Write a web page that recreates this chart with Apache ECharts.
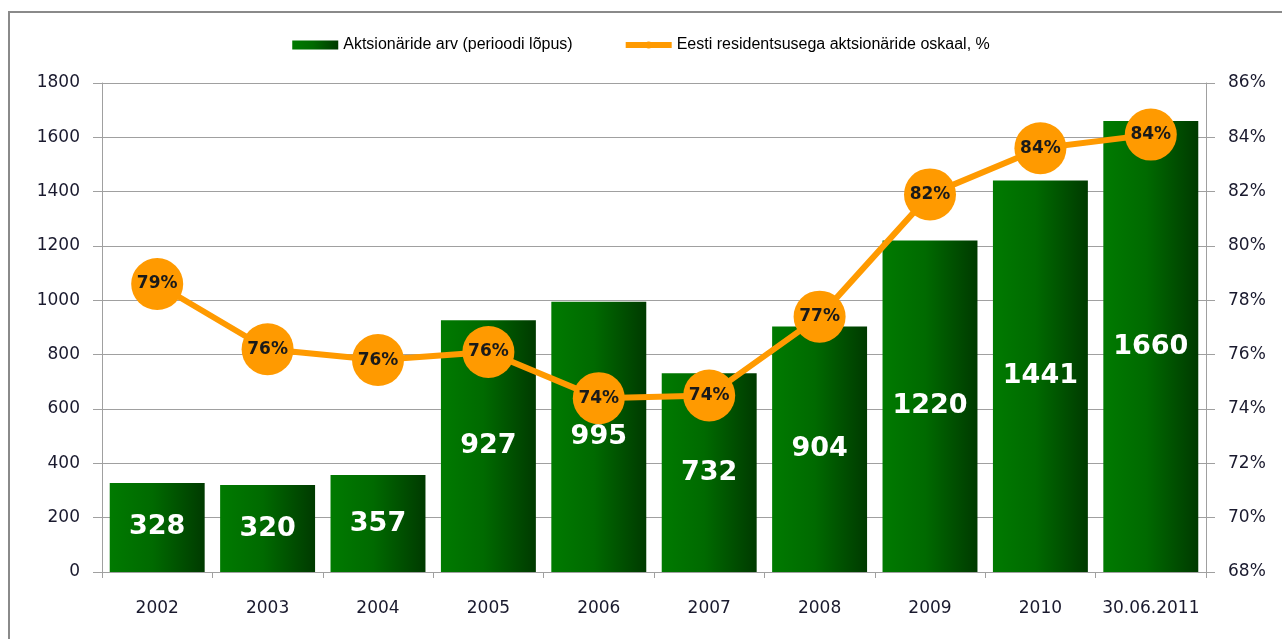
<!DOCTYPE html>
<html>
<head>
<meta charset="utf-8">
<script src="https://cdn.jsdelivr.net/npm/echarts@6/dist/echarts.min.js"></script>
<style>
  html, body { margin: 0; padding: 0; background: #fff; }
  #main { width: 1282px; height: 639px; }
</style>
</head>
<body>
<div id="main"></div>
<script>
// andmed
var categories = ['2002', '2003', '2004', '2005', '2006', '2007', '2008', '2009', '2010', '30.06.2011'];
var shareholders = [328, 320, 357, 927, 995, 732, 904, 1220, 1441, 1660];
var residentShare = [78.6, 76.2, 75.8, 76.1, 74.4, 74.5, 77.4, 81.9, 83.6, 84.1];
var residentLabels = ['79%', '76%', '76%', '76%', '74%', '74%', '77%', '82%', '84%', '84%'];

var chart = echarts.init(document.getElementById('main'));
var axisFont = 'DejaVu Sans';
var gridColor = '#a0a0a0';

var barGradient = new echarts.graphic.LinearGradient(0, 0, 1, 0, [
  { offset: 0, color: '#007a00' },
  { offset: 0.45, color: '#006a00' },
  { offset: 1, color: '#003a00' }
]);

var option = {
  backgroundColor: '#ffffff',
  animation: false,
  graphic: [{
    type: 'rect',
    shape: { x: 9, y: 12, width: 1400, height: 800 },
    style: { fill: 'none', stroke: '#8a8a8a', lineWidth: 2 },
    silent: true
  }],
  legend: {
    top: 32,
    left: 'center',
    itemGap: 50,
    itemWidth: 46,
    itemHeight: 9,
    textStyle: { fontFamily: 'Liberation Sans', fontSize: 16, color: '#000' },
    data: [
      { name: 'Aktsionäride arv (perioodi lõpus)', icon: 'rect' },
      { name: 'Eesti residentsusega aktsionäride oskaal, %', lineStyle: { width: 6, color: '#ff9a00' } }
    ]
  },
  grid: {
    left: 102,
    right: 76,
    top: 83,
    bottom: 67,
    containLabel: false
  },
  xAxis: {
    type: 'category',
    data: categories,
    axisLine: { lineStyle: { color: gridColor, width: 1 } },
    axisTick: { show: true, interval: 0, length: 6, lineStyle: { color: gridColor } },
    axisLabel: { interval: 0, fontFamily: axisFont, fontSize: 17, color: '#1a1a2e', margin: 28 }
  },
  yAxis: [{
    type: 'value',
    min: 0,
    max: 1800,
    interval: 200,
    axisLine: { show: true, lineStyle: { color: gridColor } },
    axisTick: { show: true, length: 9, lineStyle: { color: gridColor } },
    splitLine: { lineStyle: { color: gridColor, width: 1 } },
    axisLabel: { fontFamily: axisFont, fontSize: 17, color: '#1a1a2e', margin: 22, formatter: function (v) { return String(v); } }
  }, {
    type: 'value',
    min: 68,
    max: 86,
    interval: 2,
    position: 'right',
    axisLine: { show: true, lineStyle: { color: gridColor } },
    axisTick: { show: true, length: 9, lineStyle: { color: gridColor } },
    splitLine: { show: false },
    axisLabel: { fontFamily: axisFont, fontSize: 17, color: '#1a1a2e', margin: 22, formatter: '{value}%' }
  }],
  series: [{
    name: 'Aktsionäride arv (perioodi lõpus)',
    type: 'bar',
    data: shareholders,
    barCategoryGap: '14%',
    itemStyle: { color: barGradient },
    label: {
      show: true,
      position: 'inside',
      color: '#ffffff',
      fontFamily: 'DejaVu Sans',
      fontWeight: 'bold',
      fontSize: 27
    },
    z: 2
  }, {
    name: 'Eesti residentsusega aktsionäride oskaal, %',
    type: 'line',
    yAxisIndex: 1,
    data: residentShare,
    symbol: 'circle',
    symbolSize: 52,
    color: '#ff9a00',
    lineStyle: { color: '#ff9a00', width: 6 },
    itemStyle: { color: '#ff9a00' },
    label: {
      show: true,
      position: 'inside',
      color: '#1a1a1a',
      fontFamily: 'DejaVu Sans',
      fontWeight: 'bold',
      fontSize: 17,
      formatter: function (p) { return residentLabels[p.dataIndex]; }
    },
    z: 3
  }]
};

chart.setOption(option);
</script>
</body>
</html>
